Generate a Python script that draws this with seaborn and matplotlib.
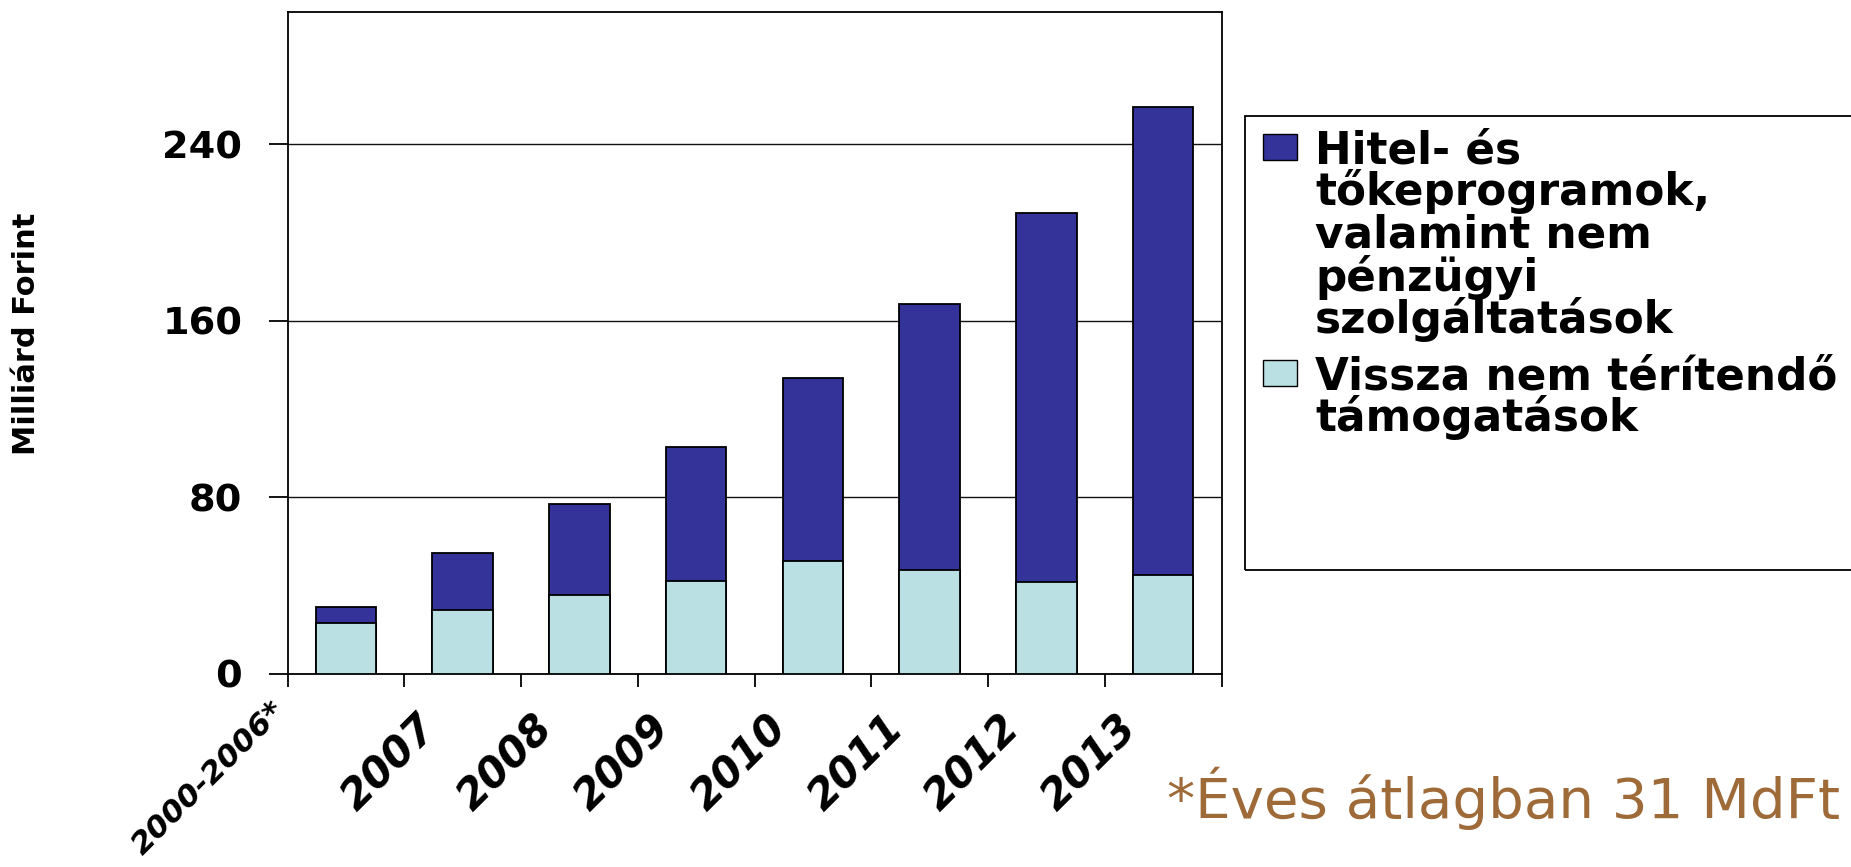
import numpy as np
import pandas as pd
import matplotlib
matplotlib.use("Agg")
import matplotlib.pyplot as plt
import matplotlib.transforms as mtransforms
from matplotlib.patches import Rectangle
import seaborn as sns

# ---- data (Milliárd Forint) ----
categories = ["2000-2006*", "2007", "2008", "2009", "2010", "2011", "2012", "2013"]
vissza_nem_teritendo = [23, 29, 36, 42, 51, 47, 41.5, 45]          # light segment
hitel_es_tokeprogramok = [7.5, 26, 41, 61, 83, 120.5, 167.5, 212]   # dark segment
yticks = [0, 80, 160, 240]
legend_lines_dark = ["Hitel- és", "tőkeprogramok,", "valamint nem", "pénzügyi", "szolgáltatások"]
legend_lines_light = ["Vissza nem térítendő", "támogatások"]
ylabel_text = "Milliárd Forint"
footnote_text = "*Éves átlagban 31 MdFt"

DARK = "#333399"
LIGHT = "#BBE0E3"
BROWN = "#9E6A38"

sns.set_theme(style="white")
plt.rcParams["font.family"] = ["DejaVu Sans"]
plt.rcParams["text.color"] = "black"
plt.rcParams["xtick.color"] = "black"
plt.rcParams["ytick.color"] = "black"
plt.rcParams["axes.labelcolor"] = "black"

W, H = 1851, 867
fig = plt.figure(figsize=(W / 100, H / 100), dpi=100)
fig.patch.set_facecolor("white")
ax = fig.add_axes([287.5 / W, 1 - 674 / H, (1221.5 - 287.5) / W, (674 - 11.7) / H])

df = pd.DataFrame({
    "kategoria": categories,
    "vissza": vissza_nem_teritendo,
    "hitel": hitel_es_tokeprogramok,
})
df["osszes"] = df["vissza"] + df["hitel"]

sns.barplot(data=df, x="kategoria", y="osszes", color=DARK, saturation=1,
            width=0.52, edgecolor="black", linewidth=1.3, ax=ax, zorder=3)
sns.barplot(data=df, x="kategoria", y="vissza", color=LIGHT, saturation=1,
            width=0.52, edgecolor="black", linewidth=1.3, ax=ax, zorder=4)

ax.set_xlabel("")
ax.set_ylabel("")
ax.set_facecolor("white")
ax.set_xlim(-0.5, len(categories) - 0.5)
ax.set_ylim(0, 300)

ax.yaxis.grid(True, color="#111111", linewidth=1.0)
ax.xaxis.grid(False)
ax.set_axisbelow(True)

for s in ax.spines.values():
    s.set_visible(True)
    s.set_color("black")
    s.set_linewidth(1.3)

# y axis
ax.set_yticks(yticks)
ax.set_yticklabels([str(v) for v in yticks])
ax.tick_params(axis="y", which="major", direction="out", length=14, width=1.3,
               color="black", labelcolor="black", pad=18.5, labelsize=27.5, left=True)
for lbl in ax.get_yticklabels():
    lbl.set_fontweight("bold")

# x axis: ticks at category boundaries, labels at centres
ax.set_xticks(np.arange(-0.5, len(categories), 1.0))
ax.set_xticklabels([""] * (len(categories) + 1))
ax.set_xticks(np.arange(len(categories)), categories, minor=True)
ax.tick_params(axis="x", which="major", direction="out", length=9.6, width=1.3,
               color="black", bottom=True)
ax.tick_params(axis="x", which="minor", length=0, pad=24, labelsize=30,
               labelcolor="black", bottom=True)
for i, lbl in enumerate(ax.get_xticklabels(minor=True)):
    lbl.set_rotation(45)
    lbl.set_ha("right")
    lbl.set_va("top")
    lbl.set_rotation_mode("anchor")
    lbl.set_fontweight("bold")
    lbl.set_fontstyle("italic")
    if len(lbl.get_text()) > 6:
        # long period label sits further left/up and is set more tightly, as in the reference
        lbl.set_fontsize(22.5)
        off = mtransforms.ScaledTranslation(-76 / 100, 11 / 100, fig.dpi_scale_trans)
    else:
        off = mtransforms.ScaledTranslation(-47 / 100, 0, fig.dpi_scale_trans)
    lbl.set_transform(lbl.get_transform() + off)

# y label
fig.text(26.5 / W, 1 - 334 / H, ylabel_text, rotation=90, ha="center", va="center",
         fontsize=22, fontweight="bold", color="black")

# legend (drawn to match the reference layout)
fig.patches.append(Rectangle((1245 / W, 1 - 570 / H), 1.0 - 1245 / W + 0.01, (570 - 115.7) / H,
                             transform=fig.transFigure, fill=False, edgecolor="black",
                             linewidth=1.3, clip_on=False))
def legend_entry(color, lines, first_baseline, step=42.5):
    cy = first_baseline - 16
    fig.patches.append(Rectangle((1262.7 / W, 1 - (cy + 13) / H), 34 / W, 26 / H,
                                 transform=fig.transFigure, facecolor=color,
                                 edgecolor="black", linewidth=1.0))
    for i, line in enumerate(lines):
        fig.text(1315 / W, 1 - (first_baseline + i * step) / H, line, ha="left",
                 va="baseline", fontsize=31.5, fontweight="bold", color="black")

legend_entry(DARK, legend_lines_dark, 163)
legend_entry(LIGHT, legend_lines_light, 389, step=42)

# footnote
fig.text(1167 / W, 1 - 818 / H, footnote_text, ha="left", va="baseline",
         fontsize=40.5, color=BROWN)

fig.savefig("out.png", dpi=100, facecolor="white")
